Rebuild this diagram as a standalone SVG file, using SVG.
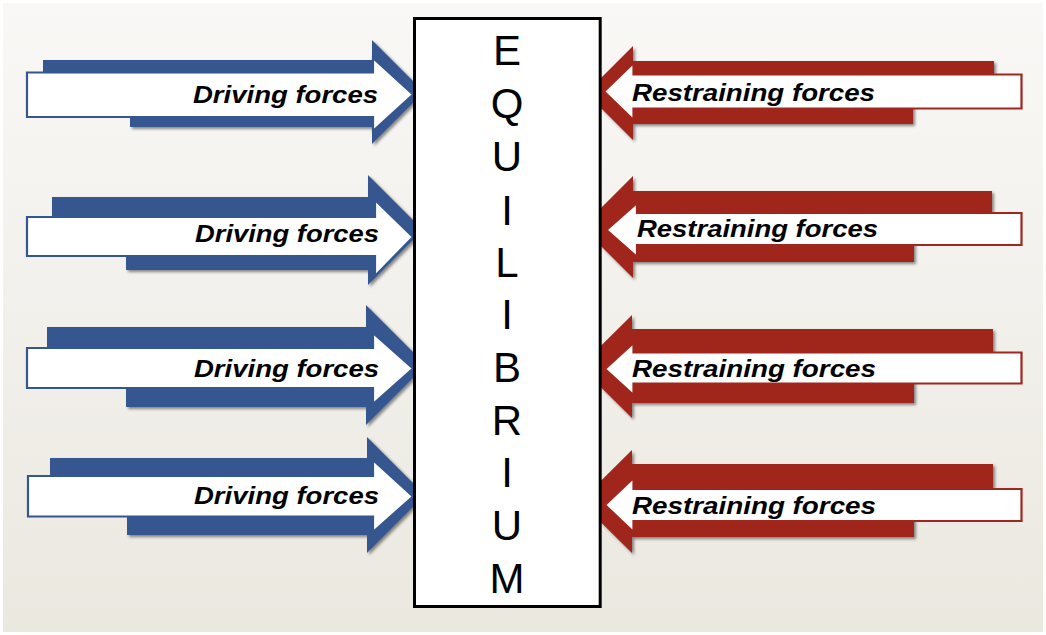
<svg xmlns="http://www.w3.org/2000/svg" width="1046" height="635" viewBox="0 0 1046 635">
<defs>
<linearGradient id="bg" x1="0" y1="0" x2="0" y2="1">
<stop offset="0" stop-color="#f9f8f6"/>
<stop offset="1" stop-color="#ebe8e0"/>
</linearGradient>
<filter id="sh" x="-5%" y="-10%" width="115%" height="130%">
<feDropShadow dx="2" dy="2" stdDeviation="1.8" flood-color="#000" flood-opacity="0.45"/>
</filter>
<style>
.blue{fill:#34578f;filter:url(#sh)}
.red{fill:#a0271f;filter:url(#sh)}
.wb{fill:#fff;stroke:#34578f;stroke-width:2.2;stroke-linejoin:miter}
.wr{fill:#fff;stroke:#a0271f;stroke-width:2.2;stroke-linejoin:miter}
.lbl{font-family:"Liberation Sans",Arial,sans-serif;font-weight:bold;font-style:italic;font-size:24px;fill:#000}
.eq{font-family:"Liberation Sans",Arial,sans-serif;font-size:42px;fill:#000;text-anchor:middle}
</style>
</defs>
<rect x="0" y="0" width="1046" height="635" fill="#fff"/>
<rect x="3" y="3" width="1040" height="629" fill="url(#bg)"/>

<g id="driving-1">
<polygon class="blue" points="43,60 372,60 372,40 424,92 372,144 372,127 130,127 130,95 43,95"/>
<polygon class="wb" points="27,72.5 373,72.5 373,58 413,94.5 373,131 373,117 27,117"/>
<text class="lbl" x="193" y="102.7" textLength="185" lengthAdjust="spacingAndGlyphs">Driving forces</text>
</g>
<g id="driving-2">
<polygon class="blue" points="52,197 368,197 368,175 423,230 368,285 368,270 126,270 126,236 52,236"/>
<polygon class="wb" points="27,217 375,217 375,200 413,237 375,276 375,256 27,256"/>
<text class="lbl" x="195" y="241.7" textLength="184" lengthAdjust="spacingAndGlyphs">Driving forces</text>
</g>
<g id="driving-3">
<polygon class="blue" points="47,327 366,327 366,305 426,365 366,425 366,407 126,407 126,368 47,368"/>
<polygon class="wb" points="27,348 373,348 373,333 413,368.5 373,404 373,388 27,388"/>
<text class="lbl" x="194" y="377.3" textLength="185" lengthAdjust="spacingAndGlyphs">Driving forces</text>
</g>
<g id="driving-4">
<polygon class="blue" points="50,458 367,458 367,437 425,495 367,553 367,535 127,535 127,496 50,496"/>
<polygon class="wb" points="28,476 373,476 373,460 413,496.5 373,532 373,516.5 28,516.5"/>
<text class="lbl" x="194" y="504" textLength="185" lengthAdjust="spacingAndGlyphs">Driving forces</text>
</g>

<g id="restraining-1">
<polygon class="red" points="994,61 633,61 633,46 586,93 633,140 633,124 913,124 913,91 994,91"/>
<polygon class="wr" points="1021.5,74.5 633.5,74.5 633.5,63 604,91.5 633.5,120 633.5,108.5 1021.5,108.5"/>
<text class="lbl" x="632" y="100.7" textLength="243" lengthAdjust="spacingAndGlyphs">Restraining forces</text>
</g>
<g id="restraining-2">
<polygon class="red" points="992,191 633,191 633,176 582,227 633,278 633,262 914,262 914,229 992,229"/>
<polygon class="wr" points="1021.5,213 637,213 637,203 606.5,230 637,257 637,245 1021.5,245"/>
<text class="lbl" x="637" y="237.3" textLength="241" lengthAdjust="spacingAndGlyphs">Restraining forces</text>
</g>
<g id="restraining-3">
<polygon class="red" points="993,329 632,329 632,315 580,366.5 632,418 632,403 914,403 914,368 993,368"/>
<polygon class="wr" points="1021.5,352.5 633.5,352.5 633.5,343 605,369 633.5,395 633.5,383.5 1021.5,383.5"/>
<text class="lbl" x="632" y="377.3" textLength="244" lengthAdjust="spacingAndGlyphs">Restraining forces</text>
</g>
<g id="restraining-4">
<polygon class="red" points="993,464 632,464 632,450 580,501.5 632,553 632,537 914,537 914,505 993,505"/>
<polygon class="wr" points="1021.5,489 633.5,489 633.5,478 605,505 633.5,532 633.5,521 1021.5,521"/>
<text class="lbl" x="632" y="514" textLength="244" lengthAdjust="spacingAndGlyphs">Restraining forces</text>
</g>

<g id="equilibrium">
<rect x="414.5" y="18.5" width="185.7" height="588" fill="#fff" stroke="#000" stroke-width="3"/>
<text class="eq" x="507" y="65">E</text>
<text class="eq" x="507" y="118">Q</text>
<text class="eq" x="507" y="171">U</text>
<text class="eq" x="507" y="224.5">I</text>
<text class="eq" x="507" y="277">L</text>
<text class="eq" x="507" y="329">I</text>
<text class="eq" x="507" y="382">B</text>
<text class="eq" x="507" y="435">R</text>
<text class="eq" x="507" y="487">I</text>
<text class="eq" x="507" y="540">U</text>
<text class="eq" x="507" y="593">M</text>
</g>
<g id="connectors"/>
</svg>
